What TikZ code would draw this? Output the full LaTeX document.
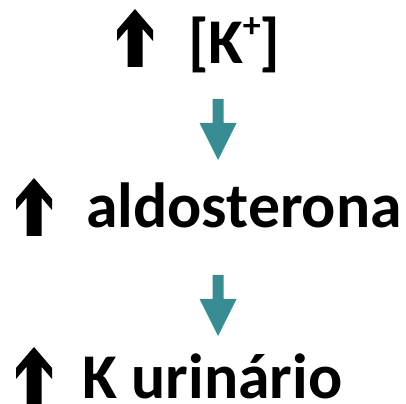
\documentclass[tikz,border=0pt]{standalone}
\usepackage{fontspec}
\setmainfont{Carlito}
\definecolor{tealarrow}{HTML}{3A8C93}
\tikzset{
  label/.style={inner sep=0pt, anchor=base west, text depth=0pt,
    font=\bfseries\fontsize{64}{64}\selectfont},
  uparrow/.style={fill=black},
  downarrow/.style={fill=tealarrow}
}
% block "increase" arrow with chevron head, drawn from its tip
\newcommand{\risearrow}[1]{%
  \fill[uparrow] (#1) -- ++(18,-21) -- ++(0,-11) -- ++(-10.5,12.25) -- ++(0,-38.25)
    -- ++(-15,0) -- ++(0,38.25) -- ++(-10.5,-12.25) -- ++(0,11) -- cycle;}
% teal step arrow drawn from its top edge centre
\newcommand{\steparrow}[1]{%
  \fill[downarrow] (#1) ++(-5.5,0) -- ++(11,0) -- ++(0,-24) -- ++(13,0) -- ++(-18.5,-37)
    -- ++(-18.5,37) -- ++(13,0) -- cycle;}
\newcommand{\supplus}{{\fontsize{36}{36}\selectfont\raisebox{26bp}{+}}}
\begin{document}
\begin{tikzpicture}[x=1bp,y=1bp]
  \useasboundingbox (0,0) rectangle (406,404);
  % rows of the chain
  \node[label] (kplasma) at (188,341) {[K\kern-1bp\supplus\kern-1bp]};
  \node[label] (aldo) at (86,177) {aldosterona};
  \node[label] (kurine) at (82,6) {K urinário};
  % increase markers
  \coordinate (up1) at (135,395);
  \coordinate (up2) at (34,226);
  \coordinate (up3) at (34,57);
  \risearrow{up1}
  \risearrow{up2}
  \risearrow{up3}
  % links between rows
  \coordinate (link1) at (218,305);
  \coordinate (link2) at (218,129);
  \steparrow{link1}
  \steparrow{link2}
\end{tikzpicture}
\end{document}
